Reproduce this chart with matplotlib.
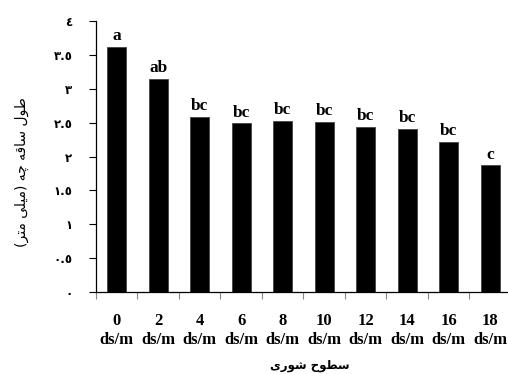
import matplotlib
matplotlib.use("Agg")
import matplotlib.pyplot as plt
import numpy as np

# data
levels = ["0", "2", "4", "6", "8", "10", "12", "14", "16", "18"]
lengths = [3.62, 3.14, 2.58, 2.49, 2.52, 2.51, 2.44, 2.41, 2.22, 1.87]
groups = ["a", "ab", "bc", "bc", "bc", "bc", "bc", "bc", "bc", "c"]
yticks = [0, 0.5, 1, 1.5, 2, 2.5, 3, 3.5, 4]
ylabel_text = "طول ساقه چه (میلی متر)"
xlabel_text = "سطوح شوری"

# small arabic shaper, matplotlib does no contextual shaping / RTL
FORMS = {
    "ا": ("\uFE8D", "\uFE8E", None, None),
    "ت": ("\uFE95", "\uFE96", "\uFE97", "\uFE98"),
    "ح": ("\uFEA1", "\uFEA2", "\uFEA3", "\uFEA4"),
    "ر": ("\uFEAD", "\uFEAE", None, None),
    "س": ("\uFEB1", "\uFEB2", "\uFEB3", "\uFEB4"),
    "ش": ("\uFEB5", "\uFEB6", "\uFEB7", "\uFEB8"),
    "ط": ("\uFEC1", "\uFEC2", "\uFEC3", "\uFEC4"),
    "ق": ("\uFED5", "\uFED6", "\uFED7", "\uFED8"),
    "ل": ("\uFEDD", "\uFEDE", "\uFEDF", "\uFEE0"),
    "م": ("\uFEE1", "\uFEE2", "\uFEE3", "\uFEE4"),
    "ه": ("\uFEE9", "\uFEEA", "\uFEEB", "\uFEEC"),
    "و": ("\uFEED", "\uFEEE", None, None),
    "چ": ("\uFB7A", "\uFB7B", "\uFB7C", "\uFB7D"),
    "ی": ("\uFBFC", "\uFBFD", "\uFBFE", "\uFBFF"),
}


def dual(c):
    return c in FORMS and FORMS[c][2] is not None


def shape(s):
    out = []
    for i, c in enumerate(s):
        if c not in FORMS:
            out.append(c)
            continue
        prev = s[i - 1] if i > 0 else ""
        nxt = s[i + 1] if i + 1 < len(s) else ""
        p = dual(prev)
        n = dual(c) and nxt in FORMS
        iso, fin, ini, med = FORMS[c]
        if p and n:
            out.append(med)
        elif p:
            out.append(fin)
        elif n:
            out.append(ini)
        else:
            out.append(iso)
    vis = "".join(reversed(out))
    return vis.translate(str.maketrans("()", ")("))


def arabic_digits(v):
    s = ("%g" % v)
    return s.translate(str.maketrans("0123456789", "٠١٢٣٤٥٦٧٨٩"))


fig = plt.figure(figsize=(5.08, 3.74), dpi=100)
ax = fig.add_axes([96 / 508, 82 / 374, 412 / 508, 271 / 374])

x = np.arange(len(levels))
ax.bar(x, lengths, width=0.46, color="black", edgecolor="#444444", linewidth=0.6)

for xi, v, g in zip(x, lengths, groups):
    ax.annotate(g, (xi, v), xytext=(0, 2), textcoords="offset points",
                ha="center", va="bottom", fontsize=12.5, fontweight="bold",
                family="Liberation Serif")

ax.set_xlim(-0.5, 9.43)
ax.set_ylim(0, 4)
ax.spines["top"].set_visible(False)
ax.spines["right"].set_visible(False)
ax.spines["left"].set_linewidth(0.9)
ax.spines["bottom"].set_linewidth(0.9)

ax.set_yticks(yticks)
ax.set_yticklabels([arabic_digits(v) for v in yticks], family="DejaVu Sans",
                   fontsize=8.5, fontweight="bold")
ax.tick_params(axis="y", direction="out", length=5, width=0.8, pad=12)

ax.set_xticks(x)
ax.set_xticklabels([l + "\nds/m" for l in levels], family="Liberation Serif",
                   fontweight="bold", fontsize=12, linespacing=1.3)
ax.set_xticks(np.arange(-0.5, 9.5, 1), minor=True)
ax.tick_params(axis="x", which="major", length=0, pad=15)
ax.tick_params(axis="x", which="minor", direction="out", length=5, width=0.8, color="#888888")

fig.text(22 / 508, 1 - 172 / 374, shape(ylabel_text), rotation=90, ha="center", va="center",
         family="DejaVu Sans", fontsize=10)
fig.text(310 / 508, 1 - 366 / 374, shape(xlabel_text), ha="center", va="center",
         family="DejaVu Sans", fontsize=8.5, fontweight="bold")

fig.savefig("out.png", dpi=100)
